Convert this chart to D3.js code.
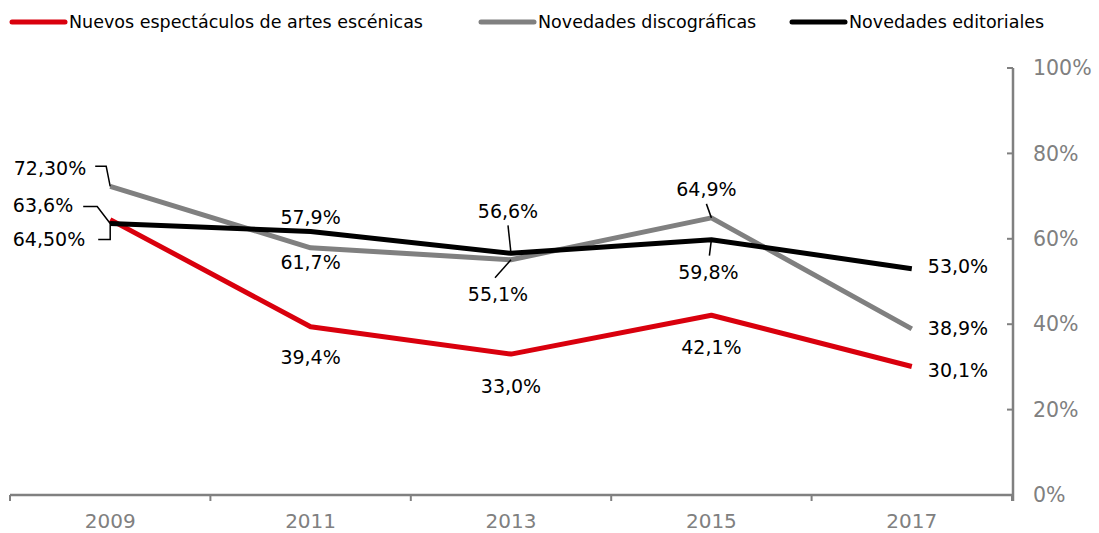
<!DOCTYPE html>
<html>
<head>
<meta charset="utf-8">
<script src="https://cdn.jsdelivr.net/npm/d3@7"></script>
<style>
  body { margin: 0; background: #fff; }
  text { font-family: Verdana, "DejaVu Sans", sans-serif; }
</style>
</head>
<body>
<div id="chart"></div>
<script>
var years = ['2009', '2011', '2013', '2015', '2017'];
var escenicas = [64.5, 39.4, 33.0, 42.1, 30.1];
var discograficas = [72.3, 57.9, 55.1, 64.9, 38.9];
var editoriales = [63.6, 61.7, 56.6, 59.8, 53.0];
var yTicks = [0, 20, 40, 60, 80, 100];

var series = [
  { name: 'Nuevos espectáculos de artes escénicas', values: escenicas, color: '#d9000d' },
  { name: 'Novedades discográficas', values: discograficas, color: '#808080' },
  { name: 'Novedades editoriales', values: editoriales, color: '#000000' }
];

// label placement per series / point: [dx, dy, anchor, leader]
var labelPos = [
  [[-25, 20, 'end', [[-12, 20], [0, 20], [0, 2]]], [0, 31, 'middle'], [0, 32, 'middle'], [0, 32, 'middle'], [16, 4, 'start']],
  [[-24, -18, 'end', [[-15, -20], [-4, -20], [0, 0]]], [0, -30, 'middle'], [-13, 35, 'middle', [[-16, 18], [0, 0]]], [-5, -29, 'middle', [[-5, -14], [0, 0]]], [16, -1, 'start']],
  [[-37, -18, 'end', [[-27, -17], [-13, -17], [0, 0]]], [0, 31, 'middle'], [-3, -42, 'middle', [[-3, -28], [0, 0]]], [-3, 33, 'middle', [[-2, 16], [0, 0]]], [16, -2, 'start']]
];

var width = 1099, height = 533;
var svg = d3.select('#chart').append('svg')
  .attr('width', width).attr('height', height);

var x = d3.scaleBand().domain(years).range([10, 1012]).padding(0);
var y = d3.scaleLinear().domain([0, 100]).range([495, 68]);
var cx = function(d, i) { return x(years[i]) + x.bandwidth() / 2; };

// x axis
var xAxis = svg.append('g').attr('transform', 'translate(0,495)');
xAxis.append('line').attr('x1', 10).attr('x2', 1012).attr('y1', 0).attr('y2', 0)
  .attr('stroke', '#808080').attr('stroke-width', 2.5);
var bounds = years.map(function(d) { return x(d); }).concat([1012]);
xAxis.selectAll('.xt').data(bounds).enter().append('line')
  .attr('x1', function(d) { return d; }).attr('x2', function(d) { return d; })
  .attr('y1', 0).attr('y2', 6).attr('stroke', '#808080').attr('stroke-width', 2);
xAxis.selectAll('.xl').data(years).enter().append('text')
  .attr('x', function(d) { return x(d) + x.bandwidth() / 2; })
  .attr('y', 33).attr('text-anchor', 'middle')
  .attr('fill', '#808080').attr('font-size', '20px').text(function(d) { return d; });

// y axis (right)
var yAxis = svg.append('g').attr('transform', 'translate(1013,0)');
yAxis.append('line').attr('x1', 0).attr('x2', 0).attr('y1', y(100)).attr('y2', 501)
  .attr('stroke', '#808080').attr('stroke-width', 2.5);
yAxis.selectAll('.yt').data(yTicks).enter().append('line')
  .attr('x1', -6).attr('x2', 0)
  .attr('y1', function(d) { return y(d); }).attr('y2', function(d) { return y(d); })
  .attr('stroke', '#808080').attr('stroke-width', 2);
yAxis.selectAll('.yl').data(yTicks).enter().append('text')
  .attr('x', 20).attr('y', function(d) { return y(d); }).attr('dy', '0.35em')
  .attr('fill', '#808080').attr('font-size', '20.5px').text(function(d) { return d + '%'; });

// lines
var line = d3.line().x(cx).y(function(d) { return y(d); });
series.forEach(function(s) {
  svg.append('path').datum(s.values)
    .attr('d', line).attr('fill', 'none')
    .attr('stroke', s.color).attr('stroke-width', 5)
    .attr('stroke-linejoin', 'round').attr('stroke-linecap', 'butt');
});

// data labels
var fmt = function(v, si, i) {
  if (i === 0 && si !== 2) return d3.format('.2f')(v).replace('.', ',') + '%';
  return d3.format('.1f')(v).replace('.', ',') + '%';
};
series.forEach(function(s, si) {
  s.values.forEach(function(v, i) {
    var p = labelPos[si][i];
    var px = cx(v, i), py = y(v);
    if (p[3]) {
      svg.append('path')
        .attr('d', d3.line()(p[3].map(function(q) { return [px + q[0], py + q[1]]; })))
        .attr('fill', 'none').attr('stroke', '#000').attr('stroke-width', 1.5);
    }
    svg.append('text').attr('x', px + p[0]).attr('y', py + p[1]).attr('dy', '0.35em')
      .attr('text-anchor', p[2]).attr('font-size', '19px').attr('fill', '#000')
      .text(fmt(v, si, i));
  });
});

// legend
var legendX = [12, 481, 792];
var legend = svg.selectAll('.lg').data(series).enter().append('g')
  .attr('transform', function(d, i) { return 'translate(' + legendX[i] + ',22)'; });
legend.append('line').attr('x1', 0).attr('x2', 53).attr('y1', 0).attr('y2', 0)
  .attr('stroke', function(d) { return d.color; }).attr('stroke-width', 5)
  .attr('stroke-linecap', 'round');
legend.append('text').attr('x', 57).attr('y', 0).attr('dy', '0.35em')
  .attr('font-size', '17.5px').attr('fill', '#000').text(function(d) { return d.name; });
</script>
</body>
</html>
